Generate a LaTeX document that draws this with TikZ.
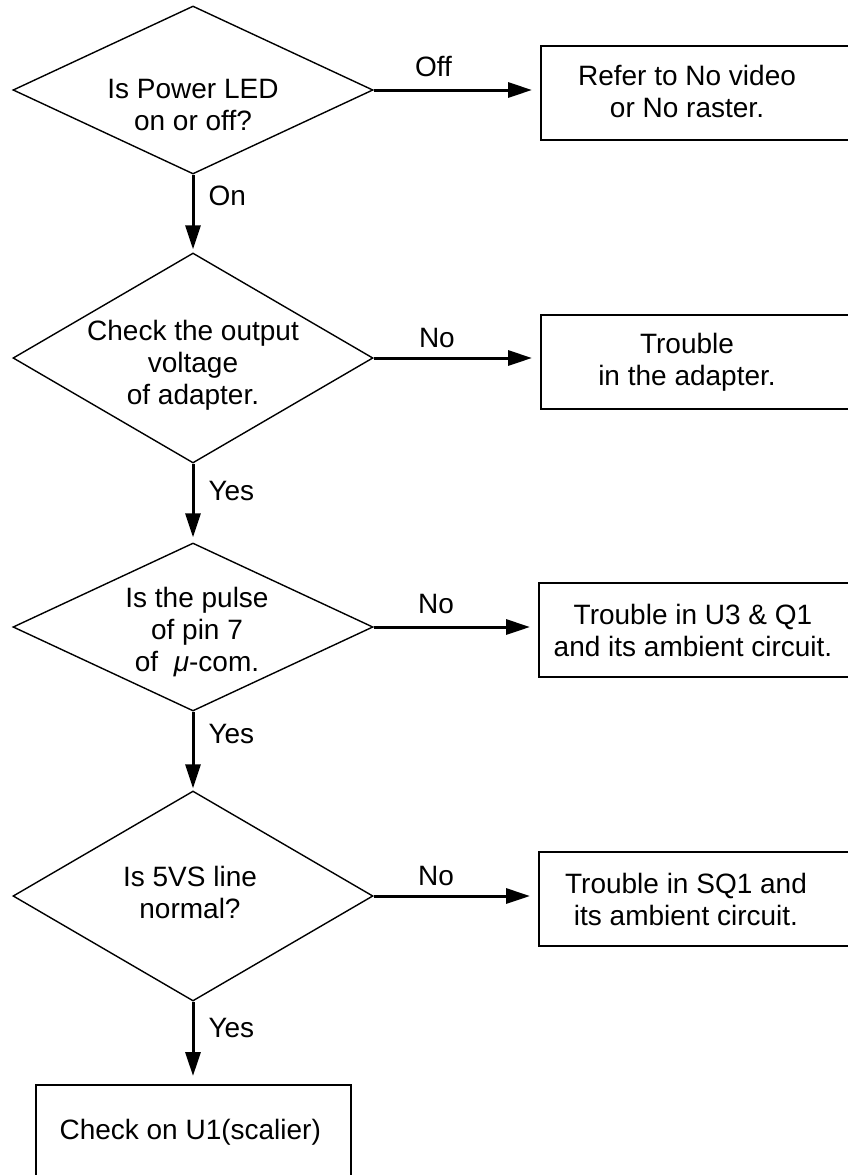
\documentclass[tikz,border=0pt]{standalone}
\usepackage{fontspec}
\setmainfont{Liberation Sans}
\usetikzlibrary{shapes.geometric,arrows.meta,calc}
\begin{document}
\begin{tikzpicture}[x=1pt,y=-1pt,
  every node/.style={font=\fontsize{28}{32}\selectfont, align=center},
  decision/.style={draw, diamond, line width=1.4pt, inner sep=0pt,
    minimum width=360pt},
  outbox/.style={draw, rectangle, line width=1.5pt, inner sep=0pt,
    anchor=north west, minimum height=94pt},
  flow/.style={line width=3pt, -{Triangle[length=24pt,width=15pt]}},
  lbl/.style={inner sep=0pt}
]
\useasboundingbox (0,0) rectangle (848,1175);
\clip (0,0) rectangle (848,1175);

% decisions
\node[decision, minimum height=168pt] (d1) at (193,90) {};
\node at ($(d1)+(0,15)$) {Is Power LED\\on or off?};

\node[decision, minimum height=210pt] (d2) at (193,358) {};
\node at ($(d2)+(0,7)$) {Check the output\\voltage\\of adapter.};

\node[decision, minimum height=168pt] (d3) at (193,627) {};
\node at ($(d3)+(4,5)$) {Is the pulse\\of pin 7\\of\ \ \textit{μ}-com.};

\node[decision, minimum height=210pt] (d4) at (193,896) {};
\node at ($(d4)+(-3,-4)$) {Is 5VS line\\normal?};

% outcome boxes on the right (they run past the page edge)
\node[outbox, minimum width=340pt] (b1) at (540,45) {};
\node (b1t) at ($(b1.west)+(147,-1)$) {Refer to No video\\or No raster.};

\node[outbox, minimum width=340pt] (b2) at (540,314) {};
\node (b2t) at ($(b2.west)+(147,1)$) {Trouble\\in the adapter.};

\node[outbox, minimum width=340pt] (b3) at (538,582) {};
\node (b3t) at ($(b3.west)+(155,1)$) {Trouble in U3 \& Q1\\and its ambient circuit.};

\node[outbox, minimum width=340pt] (b4) at (538,851) {};
\node (b4t) at ($(b4.west)+(148,1)$) {Trouble in SQ1 and\\its ambient circuit.};

% final step
\node[outbox, minimum width=315pt] (fin) at (35,1084) {};
\node (fint) at ($(fin.center)+(-3,0)$) {Check on U1(scalier)};

% vertical flow
\draw[flow, shorten >=3pt] (d1.south) -- (d2.north)
  node[lbl, pos=0, anchor=base west, xshift=14pt, yshift=-31pt] {On};
\draw[flow, shorten >=5pt] (d2.south) -- (d3.north)
  node[lbl, pos=0, anchor=base west, xshift=14pt, yshift=-37pt] {Yes};
\draw[flow, shorten >=2pt] (d3.south) -- (d4.north)
  node[lbl, pos=0, anchor=base west, xshift=14pt, yshift=-32pt] {Yes};
\draw[flow, shorten >=8pt] (d4.south) -- (d4.south |- fin.north)
  node[lbl, pos=0, anchor=base west, xshift=14pt, yshift=-36pt] {Yes};

% branches to the right
\draw[flow, shorten >=8pt] (d1.east) -- (d1.east -| b1.west)
  node[lbl, pos=0.36, anchor=base, yshift=14pt] {Off};
\draw[flow, shorten >=8pt] (d2.east) -- (d2.east -| b2.west)
  node[lbl, pos=0.38, anchor=base, yshift=11pt] {No};
\draw[flow, shorten >=8pt] (d3.east) -- (d3.east -| b3.west)
  node[lbl, pos=0.38, anchor=base, yshift=14pt] {No};
\draw[flow, shorten >=8pt] (d4.east) -- (d4.east -| b4.west)
  node[lbl, pos=0.38, anchor=base, yshift=11pt] {No};
\end{tikzpicture}
\end{document}
